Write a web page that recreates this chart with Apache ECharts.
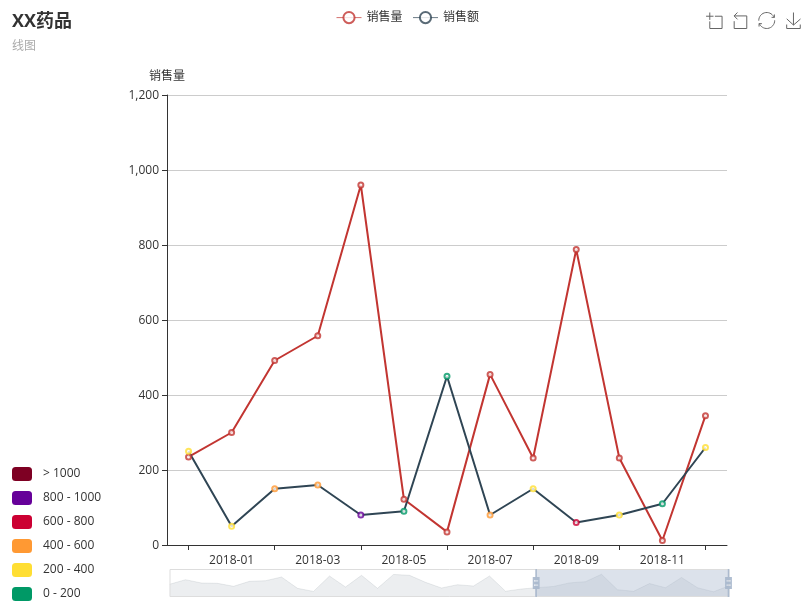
<!DOCTYPE html>
<html>
<head>
<meta charset="utf-8">
<style>html,body{margin:0;padding:0;background:#fff}#c{width:807px;height:613px}</style>
<script src="https://cdn.jsdelivr.net/npm/echarts@6/dist/echarts.min.js"></script>
</head>
<body>
<div id="c"></div>
<script>
const FONT = '"Open Sans","Noto Sans CJK SC",sans-serif';
const titleText = 'XX药品';
const subtitleText = '线图';
const seriesNames = ['销售量', '销售额'];
const months = [];
[2016, 2017, 2018].forEach(y => { for (let m = 1; m <= 12; m++) months.push(y + '-' + String(m).padStart(2, '0')); });
const salesVolume = [415,664,485,469,307,577,610,810,199,30,864,269,902,199,950,902,523,215,393,323,864,40,161,
  235,300,492,558,960,122,35,455,232,788,232,12,345];
const salesAmount = [null,null,null,null,null,null,null,null,null,null,null,null,null,null,null,null,null,null,null,null,null,null,null,
  250,50,150,160,80,90,450,80,150,60,80,110,260];
const pieces = [
  {gt: 1000, label: '> 1000', color: '#7e0023'},
  {gt: 800, lte: 1000, label: '800 - 1000', color: '#660099'},
  {gt: 600, lte: 800, label: '600 - 800', color: '#cc0033'},
  {gt: 400, lte: 600, label: '400 - 600', color: '#ff9933'},
  {gt: 200, lte: 400, label: '200 - 400', color: '#ffde33'},
  {gt: 0, lte: 200, label: '0 - 200', color: '#009966'}
];
const chart = echarts.init(document.getElementById('c'), null, {renderer: 'canvas'});
chart.setOption({
  animation: false,
  textStyle: {fontFamily: FONT},
  color: ['#c23531', '#2f4554'],
  title: {
    text: titleText, subtext: subtitleText, left: 7, top: 8,
    textStyle: {fontSize: 18, fontWeight: 'bold', color: '#333', fontFamily: FONT},
    subtextStyle: {fontSize: 12, color: '#aaa', fontFamily: FONT}
  },
  legend: {
    data: seriesNames, top: 6, left: 331, itemWidth: 25, itemHeight: 14, itemGap: 10,
    textStyle: {color: '#333', fontSize: 12, fontFamily: FONT},
    itemStyle: {borderWidth: 1, opacity: 0.8},
    lineStyle: {width: 1, opacity: 0.7}
  },
  toolbox: {
    right: -11, top: -5, itemSize: 16, itemGap: 7,
    iconStyle: {borderColor: '#666', color: 'none'},
    feature: {dataZoom: {yAxisIndex: 'none'}, restore: {}, saveAsImage: {}}
  },
  grid: {left: 167, right: 80, top: 95, bottom: 68, containLabel: false},
  xAxis: {
    type: 'category', data: months, boundaryGap: true,
    axisLine: {show: true, lineStyle: {color: '#333', width: 1}},
    axisTick: {show: true, alignWithLabel: true, length: 5, interval: i => i % 2 === 1, lineStyle: {color: '#333'}},
    axisLabel: {color: '#333', fontSize: 12, margin: 9.5, interval: i => i % 2 === 0, fontFamily: FONT},
    splitLine: {show: false}
  },
  yAxis: {
    type: 'value', name: seriesNames[0], min: 0, max: 1200, interval: 200, nameGap: 12,
    nameTextStyle: {color: '#333', fontSize: 12, fontFamily: FONT},
    axisLine: {show: true, lineStyle: {color: '#333', width: 1}},
    axisTick: {show: true, length: 5, lineStyle: {color: '#333'}},
    axisLabel: {color: '#333', fontSize: 12, margin: 8, verticalAlign: 'top', padding: [-5, 0, 0, 0], fontFamily: FONT},
    splitLine: {show: true, lineStyle: {color: '#ccc', width: 1}}
  },
  dataZoom: [{
    type: 'slider', xAxisIndex: 0, start: 65.3, end: 100, filterMode: 'filter',
    left: 167, right: 80, bottom: 16, height: 28,
    backgroundColor: 'rgba(47,69,84,0)',
    borderColor: '#ddd',
    fillerColor: 'rgba(167,183,204,0.4)',
    handleIcon: 'M8.2,13.6V3.9H6.3v9.7H3.1v14.9h3.3v9.7h1.8v-9.7h3.3V13.6H8.2z M9.7,24.4H4.8v-1.4h4.9V24.4z M9.7,19.1H4.8v-1.4h4.9V19.1z',
    handleSize: '100%',
    handleStyle: {color: '#a7b7cc', borderColor: '#a7b7cc', borderWidth: 0, opacity: 0.9},
    moveHandleSize: 0, showDetail: false, brushSelect: false,
    dataBackground: {lineStyle: {color: '#2f4554', opacity: 0.2, width: 0.5}, areaStyle: {color: '#2f4554', opacity: 0.09}},
    selectedDataBackground: {lineStyle: {color: '#2f4554', opacity: 0.2, width: 0.5}, areaStyle: {color: '#2f4554', opacity: 0.09}}
  }],
  visualMap: {
    type: 'piecewise', seriesIndex: 1, dimension: 2, pieces: pieces,
    left: 12, bottom: 12, itemWidth: 20, itemHeight: 14, itemGap: 10, textGap: 11, padding: 0, orient: 'vertical',
    textStyle: {color: '#333', fontSize: 12, fontFamily: FONT},
    showLabel: true, selectedMode: false
  },
  series: [
    {
      name: seriesNames[0], type: 'line', data: salesVolume,
      symbol: 'emptyCircle', symbolSize: 5, showSymbol: true, showAllSymbol: true,
      lineStyle: {color: '#c23531', width: 2}, itemStyle: {color: '#c23531', borderWidth: 1, opacity: 0.8}
    },
    {
      name: seriesNames[1], type: 'line',
      data: salesAmount.map((v, i) => [months[i], v, salesVolume[i]]),
      encode: {x: 0, y: 1},
      symbol: 'emptyCircle', symbolSize: 5, showSymbol: true, showAllSymbol: true,
      lineStyle: {color: '#2f4554', width: 2}, itemStyle: {color: '#2f4554', borderWidth: 1, opacity: 0.8}
    }
  ]
});
</script>
</body>
</html>
